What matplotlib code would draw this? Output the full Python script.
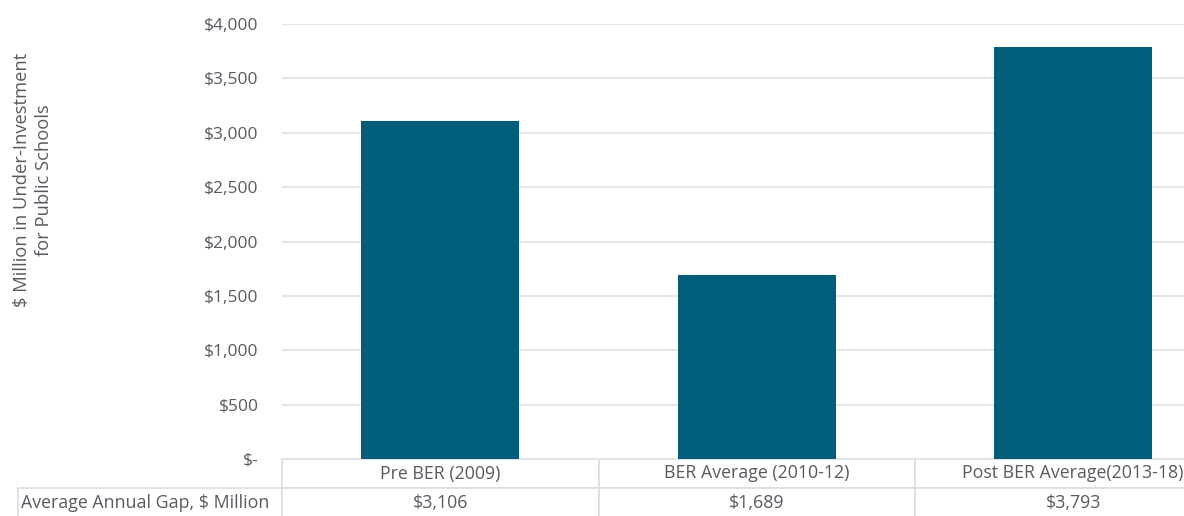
import matplotlib.pyplot as plt
from matplotlib.table import Table

categories = ['Pre BER (2009)', 'BER Average (2010-12)', 'Post BER Average(2013-18)']
gap = [3106, 1689, 3793]
row_label = 'Average Annual Gap, $ Million'
yticks = [0, 500, 1000, 1500, 2000, 2500, 3000, 3500, 4000]

bar_color = '#005e7a'
text_color = '#565b61'
grid_color = '#e3e7eb'
edge_color = '#d9dee3'

plt.rcParams['font.family'] = 'Open Sans'

fig = plt.figure(figsize=(11.84, 5.16), dpi=100)
W, H = 1184, 516
left, right, top, bottom = 282, 1231.5, 24, 459
ax = fig.add_axes([left / W, (H - bottom) / H, (right - left) / W, (bottom - top) / H])

x = list(range(len(categories)))
ax.bar(x, gap, width=0.5, color=bar_color, zorder=3)
ax.set_xlim(-0.5, len(categories) - 0.5)
ax.set_ylim(0, 4000)

ax.set_yticks(yticks)
ax.set_yticklabels(['$-' if v == 0 else '${:,}'.format(v) for v in yticks])
ax.tick_params(axis='y', length=0, pad=17, labelsize=12.5, labelcolor=text_color)
ax.set_xticks([])
ax.grid(axis='y', color=grid_color, linewidth=1.5, zorder=0)
for s in ax.spines.values():
    s.set_visible(False)

ax.set_ylabel('$ Million in Under-Investment\nfor Public Schools',
              fontsize=13.2, color=text_color, linespacing=1.3)
ax.yaxis.set_label_coords(-0.241, 0.641)

# data table under the bars: header row of categories, one row of values
row_h = 29 / (bottom - top)
table = Table(ax, bbox=[0, -2 * row_h, 1, 2 * row_h])
col_w = 1 / len(categories)
for c, name in enumerate(categories):
    table.add_cell(0, c, width=col_w, height=1, text=name, loc='center')
    table.add_cell(1, c, width=col_w, height=1, text='${:,}'.format(gap[c]), loc='center')
lab = table.add_cell(1, -1, width=264 / (right - left), height=1, text=row_label, loc='left')
lab.PAD = 0.01
table.auto_set_font_size(False)
table.set_fontsize(12.8)
for cell in table.get_celld().values():
    cell.set_edgecolor(edge_color)
    cell.set_linewidth(1.2)
    cell.get_text().set_color(text_color)
ax.add_table(table)

fig.savefig('out.png', dpi=100)
